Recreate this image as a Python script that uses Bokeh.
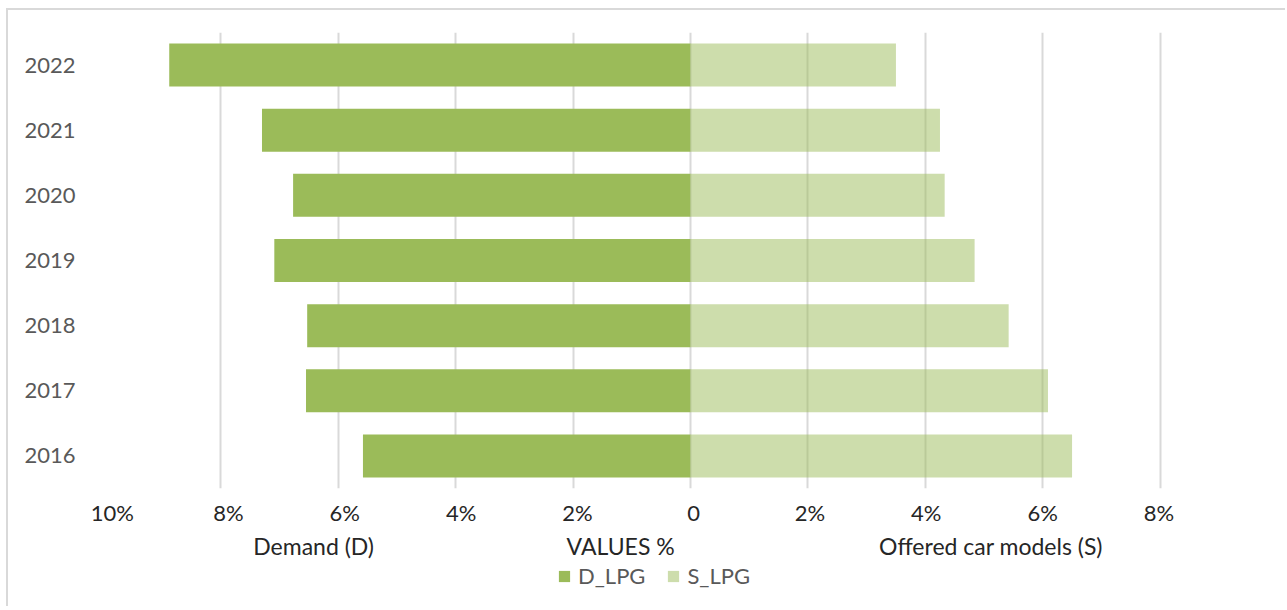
from bokeh.plotting import figure
from bokeh.layouts import column
from bokeh.models import (ColumnDataSource, FactorRange, Range1d, FixedTicker,
                          CustomJSTickFormatter, LinearAxis, Legend, LegendItem)
from bokeh.embed import file_html
from bokeh.resources import INLINE

# ---- data (percent) ----
years = ["2016", "2017", "2018", "2019", "2020", "2021", "2022"]
d_lpg = [5.58, 6.55, 6.53, 7.09, 6.77, 7.30, 8.88]   # Demand (D)
s_lpg = [6.50, 6.09, 5.42, 4.84, 4.33, 4.25, 3.50]   # Offered car models (S)
x_ticks = [-10, -8, -6, -4, -2, 0, 2, 4, 6, 8]
grid_ticks = [-10, -8, -6, -4, -2, 0, 2, 4, 6, 8, 10]
series_names = ["D_LPG", "S_LPG"]

FONT = "Lato"
GREEN = "#9BBB59"

src = ColumnDataSource(dict(
    year=years,
    d_left=[-v for v in d_lpg],
    zero=[0] * len(years),
    s_right=s_lpg,
))

p = figure(width=1277, height=552, output_backend="svg", toolbar_location=None,
           y_range=FactorRange(factors=years, range_padding=0),
           x_range=Range1d(-10, 10),
           min_border_left=95, min_border_right=8, min_border_top=22,
           min_border_bottom=74)
p.outline_line_color = None
p.background_fill_color = "white"
p.border_fill_color = "white"
# the reference's tick labels sit on a slightly different scale than its gridlines
p.extra_x_ranges = {"labels": Range1d(-10.15, 10.04)}

rd = p.hbar(y="year", left="d_left", right="zero", height=0.66, source=src,
            fill_color=GREEN, line_color=None)
rs = p.hbar(y="year", left="zero", right="s_right", height=0.66, source=src,
            fill_color=GREEN, fill_alpha=0.5, line_color=None)

# grid
p.ygrid.grid_line_color = None
p.xgrid.ticker = FixedTicker(ticks=grid_ticks)
p.xgrid.grid_line_color = "#d9d9d9"
p.xgrid.grid_line_width = 2

# hide default x axis, use a label axis instead
p.xaxis[0].visible = False


def style_axis(ax, size, color, standoff):
    ax.axis_line_color = None
    ax.major_tick_line_color = None
    ax.minor_tick_line_color = None
    ax.major_tick_out = 0
    ax.major_tick_in = 0
    ax.major_label_standoff = standoff
    ax.major_label_text_font = FONT
    ax.major_label_text_font_size = size
    ax.major_label_text_color = color


xa = LinearAxis(x_range_name="labels", ticker=FixedTicker(ticks=x_ticks),
                formatter=CustomJSTickFormatter(
                    code="return tick == 0 ? '0' : Math.abs(tick) + '%';"))
style_axis(xa, "22px", "#262626", 10)
p.add_layout(xa, "below")

# bottom axis used for the three titles
ta = LinearAxis(ticker=FixedTicker(ticks=[-6.42, -1.19, 5.12]),
                formatter=CustomJSTickFormatter(code="""
                    if (tick < -3) return 'Demand (D)';
                    if (tick < 0) return 'VALUES %';
                    return 'Offered car models (S)';"""))
style_axis(ta, "23px", "#262626", 3)
p.add_layout(ta, "below")

# y axis
style_axis(p.yaxis[0], "22px", "#595959", 28)

# ---- legend row (same series, zero-height and off-range so only the legend shows) ----
p2 = figure(width=1277, height=44, output_backend="svg", toolbar_location=None,
            x_range=Range1d(100, 101),
            y_range=FactorRange(factors=years, range_padding=0),
            min_border_left=95, min_border_right=8, min_border_top=0,
            min_border_bottom=0)
p2.axis.visible = False
p2.grid.visible = False
p2.outline_line_color = None
q1 = p2.hbar(y="year", left="d_left", right="zero", height=0, source=src,
             fill_color=GREEN, line_color=None)
q2 = p2.hbar(y="year", left="zero", right="s_right", height=0, source=src,
             fill_color=GREEN, fill_alpha=0.5, line_color=None)
legend = Legend(items=[LegendItem(label=series_names[0], renderers=[q1]),
                       LegendItem(label=series_names[1], renderers=[q2])],
                orientation="horizontal", location=(454, 17))
legend.label_text_font = FONT
legend.label_text_font_size = "22px"
legend.label_text_color = "#595959"
legend.glyph_width = 14
legend.glyph_height = 14
legend.label_standoff = 7
legend.spacing = 21
legend.padding = 0
legend.margin = 0
legend.border_line_color = None
legend.background_fill_alpha = 0
p2.add_layout(legend)

layout = column(p, p2, spacing=0)
layout.styles = {"border-left": "2px solid #d9d9d9", "border-top": "2px solid #d9d9d9",
                 "margin-left": "6px", "margin-top": "8px"}
open("out.html", "w").write(file_html(layout, INLINE))
